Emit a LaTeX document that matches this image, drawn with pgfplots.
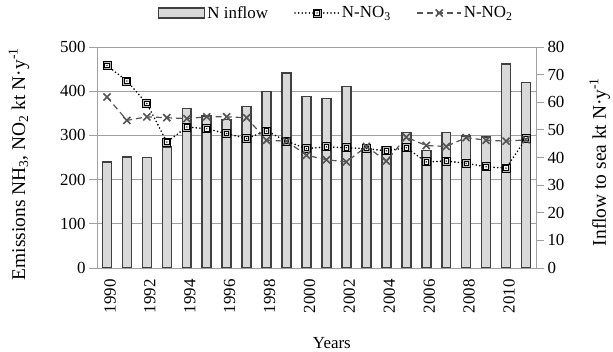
\documentclass[border=0pt]{standalone}
\usepackage{fontspec}
\setmainfont{Liberation Serif}
\usepackage{pgfplots}
\pgfplotsset{compat=1.18}
\newcommand\myfont{\fontsize{17}{20}\selectfont}
\newcommand\labfont{\fontsize{19.5}{23}\selectfont}
\definecolor{barfill}{HTML}{D9D9D9}
\definecolor{bardraw}{HTML}{404040}
\definecolor{axgray}{HTML}{A0A0A0}
\definecolor{nogray}{HTML}{555555}

\pgfdeclareplotmark{dsq}{%
  \pgfsetfillcolor{gray!55}%
  \pgfpathrectangle{\pgfpoint{-\pgfplotmarksize}{-\pgfplotmarksize}}{\pgfpoint{2\pgfplotmarksize}{2\pgfplotmarksize}}%
  \pgfusepath{fill,stroke}%
  \pgfsetfillcolor{gray!10}%
  \pgfpathrectangle{\pgfpoint{-0.55\pgfplotmarksize}{-0.55\pgfplotmarksize}}{\pgfpoint{1.1\pgfplotmarksize}{1.1\pgfplotmarksize}}%
  \pgfusepath{fill,stroke}%
  \pgfsetfillcolor{black}%
  \pgfpathcircle{\pgfpointorigin}{0.18\pgfplotmarksize}%
  \pgfusepath{fill}%
}
\pgfplotsset{
  mylegline/.style={legend image code/.code={\draw[mark repeat=2, mark phase=2, ##1] plot coordinates {(0bp,0bp) (22bp,0bp) (44bp,0bp)};}},
  mylegbar/.style={legend image code/.code={\draw[fill=barfill, draw=bardraw, line width=1.6bp] (0bp,-5bp) rectangle (46bp,5bp);}},
}

\pgfplotstableread{
x bar
0 38.3
1 40.2
2 40.0
3 43.9
4 57.7
5 55.0
6 53.7
7 58.5
8 63.9
9 70.5
10 62.1
11 61.3
12 65.7
13 43.2
14 43.8
15 49.0
16 42.5
17 49.1
18 47.7
19 47.5
20 73.9
21 67.1
}\barsdata

\pgfplotstableread{
x no3 no2
0 458 387
1 423 334
2 372 342
3 285 340
4 319 338
5 315 342
6 304 342
7 293 340
8 310 289
9 287 287
10 270 255
11 274 245
12 272 240
13 270 275
14 265 242
15 272 296
16 240 277
17 242 275
18 237 295
19 229 289
20 226 287
21 293 290
}\linedata

\begin{document}
\begin{tikzpicture}
\pgfplotsset{
  common/.style={
    scale only axis, width=439bp, height=221bp,
    at={(0,0)}, anchor=south west,
    xmin=-0.5, xmax=21.5,
    tick label style={font=\myfont, text=black},
    label style={font=\myfont},
    /pgf/number format/assume math mode=true,
    axis line style={axgray, line width=0.8bp},
    every tick/.style={axgray, line width=0.8bp},
    major tick length=8bp,
    tick align=outside,
  },
}
% axis 1: grid, left axis, x axis
\begin{axis}[common,
  ymin=0, ymax=500, ytick={0,100,...,500},
  ymajorgrids, grid style={axgray, line width=0.8bp},
  axis y line*=left, axis x line*=bottom,
  xtick={0,2,...,20},
  xticklabels={1990,1992,1994,1996,1998,2000,2002,2004,2006,2008,2010},
  x tick style={draw=none},
  minor xtick={-0.5,0.5,...,21.5},
  minor tick length=5bp,
  xticklabel style={rotate=90, anchor=east, yshift=-3bp},
  xlabel={Years},
  xlabel style={at={(axis description cs:0.535,-0.34)}, anchor=center},
  ylabel={Emissions NH\textsubscript{3}, NO\textsubscript{2} kt N·y\textsuperscript{-1}},
  ylabel style={at={(axis description cs:-0.178,0.47)}, rotate=0, anchor=center, font=\labfont},
]
\addplot[draw=none] coordinates {(0,0)};
\end{axis}
% axis 2: bars, right axis
\begin{axis}[common,
  ymin=0, ymax=80, ytick={0,10,...,80},
  axis y line*=right, axis x line=none,
  ylabel={Inflow to sea kt N·y\textsuperscript{-1}},
  ylabel style={at={(axis description cs:1.145,0.48)}, rotate=0, anchor=center, font=\labfont},
]
\addplot[ybar, bar width=0.45, fill=barfill, draw=bardraw, line width=1.6bp]
  table[x=x, y=bar] {\barsdata};
\end{axis}
% axis 3: lines
\begin{axis}[common,
  ymin=0, ymax=500, hide axis,
  legend style={at={(axis description cs:0.545,1.154)}, anchor=center,
    draw=none, fill=none, font=\myfont, legend columns=3,
    /tikz/every even column/.append style={column sep=24bp}},
  legend cell align=left,
]
\addlegendimage{mylegbar}
\addlegendentry{N inflow}
\addplot[black, line width=1.8bp, line cap=round, dash pattern=on 0bp off 3.6bp,
  mark=dsq, mark size=4bp, mark options={solid, draw=black, line width=0.9bp},
  mylegline]
  table[x=x, y=no3] {\linedata};
\addlegendentry{N-NO\textsubscript{3}}
\addplot[nogray, line width=1.2bp, dash pattern=on 6bp off 4bp,
  mark=x, mark size=5bp, mark options={solid, line width=1.6bp, nogray},
  mylegline]
  table[x=x, y=no2] {\linedata};
\addlegendentry{N-NO\textsubscript{2}}
\end{axis}
\pgfresetboundingbox
\useasboundingbox (-97bp,-84bp) rectangle (516bp,268bp);
\end{tikzpicture}
\end{document}
